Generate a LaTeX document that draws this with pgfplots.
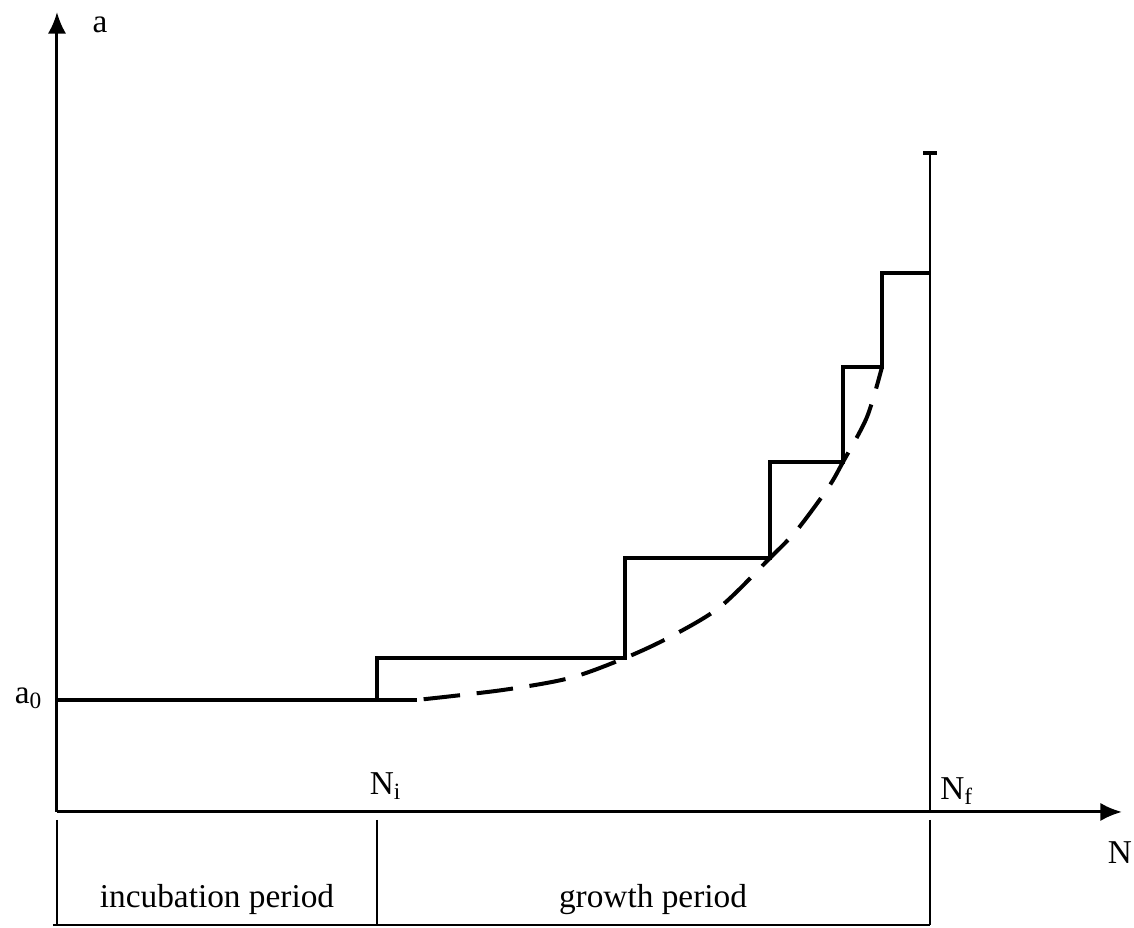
\documentclass[border=0pt]{standalone}
\usepackage{pgfplots}
\pgfplotsset{compat=1.18}
\usepackage{fontspec}
\setmainfont{Liberation Serif}
\usetikzlibrary{arrows.meta}

\begin{document}
\begin{tikzpicture}
\begin{axis}[
  scale only axis,
  width=319.5pt, height=240pt,
  xmin=0, xmax=1065, ymin=0, ymax=800,
  axis lines=left,
  axis line style={line width=0.9pt, -{Latex[length=6.5pt,width=5.5pt]}},
  xtick=\empty, ytick=\empty,
  clip=false,
]
% corners of the whole figure
\coordinate (sw) at (axis cs:-57,-116);
\coordinate (ne) at (axis cs:1077,812);

% crack length held at a_0 during incubation, then growing in steps
\addplot[black, line width=1.3pt, sharp plot] coordinates {
  (0,112) (360,112)
};
\addplot[black, line width=1.3pt, sharp plot] coordinates {
  (320,112) (320,154) (568,154) (568,254) (713,254) (713,350)
  (786,350) (786,445) (825,445) (825,539) (873,539)
};

% continuous growth curve
\addplot[black, line width=1.2pt, smooth, tension=0.5,
  dash pattern=on 11pt off 5pt, dash phase=-2pt] coordinates {
  (360,112) (446,122) (513,134) (568,154) (613,175) (663,205)
  (713,254) (740,282) (771,324) (786,350) (810,395) (825,445)
};

% failure at N_f
\addplot[black, line width=0.8pt] coordinates {(873,0) (873,659)};
\addplot[black, line width=1.2pt] coordinates {(866,659) (880,659)};

% period brackets below the N axis
\addplot[black, line width=0.8pt] coordinates {(0,-8) (0,-113)};
\addplot[black, line width=0.8pt] coordinates {(320,-8) (320,-113)};
\addplot[black, line width=0.8pt] coordinates {(873,-8) (873,-113)};
\addplot[black, line width=0.8pt] coordinates {(-4,-113) (873,-113)};

% labels
\node at (axis cs:43,787) {a};
\node at (axis cs:-28,114) {a\textsubscript{0}};
\node at (axis cs:329,26) {N\textsubscript{i}};
\node at (axis cs:900,21) {N\textsubscript{f}};
\node at (axis cs:1063,-41) {N};
\node at (axis cs:160,-88) {incubation period};
\node at (axis cs:596,-88) {growth period};
\end{axis}
\pgfresetboundingbox
\path[use as bounding box] (sw) rectangle (ne);
\end{tikzpicture}
\end{document}
